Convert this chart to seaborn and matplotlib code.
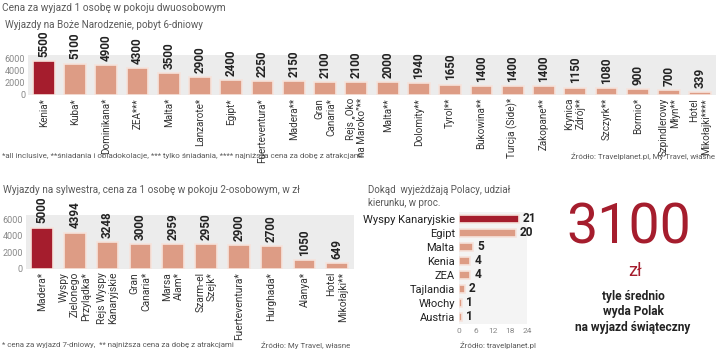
import matplotlib
matplotlib.use('Agg')
from matplotlib import pyplot as plt
import seaborn as sns
import pandas as pd

sns.set_theme(style='white')
plt.rcParams['font.family'] = ['Roboto', 'DejaVu Sans']

RED = '#a51d2d'
SALMON = '#dd9c85'
EDGE = '#f6e3dc'
GREY = '#5a5a5a'

# Boże Narodzenie, pobyt 6-dniowy
xmas_places = ['Kenia*', 'Kuba*', 'Dominikana*', 'ZEA***', 'Malta*', 'Lanzarote*',
               'Egipt*', 'Fuerteventura*', 'Madera**', 'Gran\nCanaria*',
               'Rejs „Oko\nna Maroko”**', 'Malta**', 'Dolomity**', 'Tyrol**',
               'Bukowina**', 'Turcja (Side)*', 'Zakopane**', 'Krynica\nZdrój**',
               'Szczyrk**', 'Bormio*', 'Szpindlerowy\nMłyn**', 'Hotel\nMikołajki****']
xmas_prices = [5500, 5100, 4900, 4300, 3500, 2900, 2400, 2250, 2150, 2100,
               2100, 2000, 1940, 1650, 1400, 1400, 1400, 1150, 1080, 900, 700, 339]

# sylwester
nye_places = ['Madera*', 'Wyspy\nZielonego\nPrzylądka*', 'Rejs Wyspy\nKanaryjskie',
              'Gran\nCanaria*', 'Marsa\nAlam*', 'Szarm-el\nSzejk*', 'Fuerteventura*',
              'Hurghada*', 'Alanya*', 'Hotel\nMikołajki**']
nye_prices = [5000, 4394, 3248, 3000, 2959, 2950, 2900, 2700, 1050, 649]

# udział kierunku, w proc.
dest_names = ['Wyspy Kanaryjskie', 'Egipt', 'Malta', 'Kenia', 'ZEA',
              'Tajlandia', 'Włochy', 'Austria']
dest_share = [21, 20, 5, 4, 4, 2, 1, 1]

W, H = 720, 350


def rect(l, t, r, b):
    return [l / W, 1 - b / H, (r - l) / W, (b - t) / H]


def ftext(x, y, s, **kw):
    fig.text(x / W, 1 - y / H, s, **kw)


def price_bars(ax, places, prices, width, tick_size):
    df = pd.DataFrame({'place': places, 'price': prices})
    colors = [RED] + [SALMON] * (len(places) - 1)
    sns.barplot(data=df, x='place', y='price', hue='place', palette=colors,
                legend=False, width=width, edgecolor=EDGE, linewidth=1.2,
                saturation=1, ax=ax)
    for p in ax.patches:
        h = p.get_height()
        ax.annotate(f'{h:.0f}', (p.get_x() + p.get_width() / 2, h),
                    xytext=(0, 3), textcoords='offset points', rotation=90,
                    ha='center', va='bottom', fontsize=8.4,
                    fontweight='bold', color='#222222',
                    annotation_clip=False)
    ax.set_xlim(-0.5, len(places) - 0.5)
    ax.set_ylim(0, 6600)
    ax.set_yticks([0, 2000, 4000, 6000])
    ax.set_facecolor('#ececec')
    ax.set_xlabel('')
    ax.set_ylabel('')
    sns.despine(ax=ax, left=True, bottom=True)
    ax.tick_params(axis='y', length=0, pad=2, labelsize=6.5, labelcolor='#888888')
    ax.tick_params(axis='x', length=0, pad=2.5, labelsize=tick_size, labelcolor='#333333')
    for t in ax.get_xticklabels():
        t.set_rotation(90)
        t.set_va('top')
        t.set_ha('center')
        t.set_multialignment('right')


fig = plt.figure(figsize=(7.2, 3.5), dpi=100)

ax1 = fig.add_axes(rect(28, 54.5, 716, 94.5))
price_bars(ax1, xmas_places, xmas_prices, 0.7, 7.1)

ax2 = fig.add_axes(rect(25.6, 214.5, 353.6, 268.5))
price_bars(ax2, nye_places, nye_prices, 0.66, 7.4)

ax3 = fig.add_axes(rect(459, 212, 527, 324))
df3 = pd.DataFrame({'name': dest_names, 'share': dest_share})
sns.barplot(data=df3, x='share', y='name', hue='name',
            palette=[RED] + [SALMON] * (len(dest_names) - 1), legend=False,
            width=0.62, edgecolor=EDGE, linewidth=1.2, saturation=1,
            orient='h', ax=ax3)
for p in ax3.patches:
    w = p.get_width()
    ax3.annotate(f'{w:.0f}', (w, p.get_y() + p.get_height() / 2),
                 xytext=(3, 0), textcoords='offset points', ha='left',
                 va='center', fontsize=8.6, fontweight='bold',
                 color='#222222', annotation_clip=False)
ax3.set_xlim(0, 24)
ax3.set_xticks([0, 6, 12, 18, 24])
ax3.set_facecolor('#f4f4f4')
ax3.set_xlabel('')
ax3.set_ylabel('')
sns.despine(ax=ax3, left=True, bottom=True)
ax3.tick_params(axis='x', length=0, pad=3, labelsize=6, labelcolor='#888888')
ax3.tick_params(axis='y', length=0, pad=3, labelsize=8, labelcolor='#222222')

# texts
ftext(2, 8, 'Cena za wyjazd 1 osobę w pokoju dwuosobowym', fontsize=7.3,
      color=GREY, va='center')
ftext(5, 25, 'Wyjazdy na Boże Narodzenie, pobyt 6-dniowy', fontsize=7.1,
      color=GREY, va='center')
ftext(2, 156, '*all inclusive, **śniadania i obiadokolacje, *** tylko śniadania, '
      '**** najniższa cena za dobę z atrakcjami', fontsize=5.8, color=GREY,
      va='center')
ftext(715, 156, 'Źródło: Travelplanet.pl, My Travel, własne', fontsize=5.7,
      color=GREY, va='center', ha='right')

ftext(3, 190, 'Wyjazdy na sylwestra, cena za 1 osobę w pokoju 2-osobowym, w zł',
      fontsize=7.2, color=GREY, va='center')
ftext(2, 345, '* cena za wyjazd 7-dniowy,  ** najniższa cena za dobę z atrakcjami',
      fontsize=5.7, color=GREY, va='center')
ftext(350, 345, 'Źródło: My Travel, własne', fontsize=5.7, color=GREY,
      va='center', ha='right')

ftext(368, 190, 'Dokąd  wyjeżdżają Polacy, udział', fontsize=7, color=GREY,
      va='center')
ftext(368, 203, 'kierunku, w proc.', fontsize=7, color=GREY, va='center')
ftext(460, 345, 'Źródło: travelplanet.pl', fontsize=5.7, color=GREY,
      va='center')

ftext(629, 228, '3100', fontsize=40, color=RED, ha='center', va='center')
ftext(635, 271, 'zł', fontsize=13, color=RED, ha='center', va='center')
ftext(633, 312, 'tyle średnio\nwyda Polak\nna wyjazd świąteczny', fontsize=8.6,
      color='#222222', ha='center', va='center', fontweight='bold',
      linespacing=1.25)

fig.savefig('out.png', dpi=100)
